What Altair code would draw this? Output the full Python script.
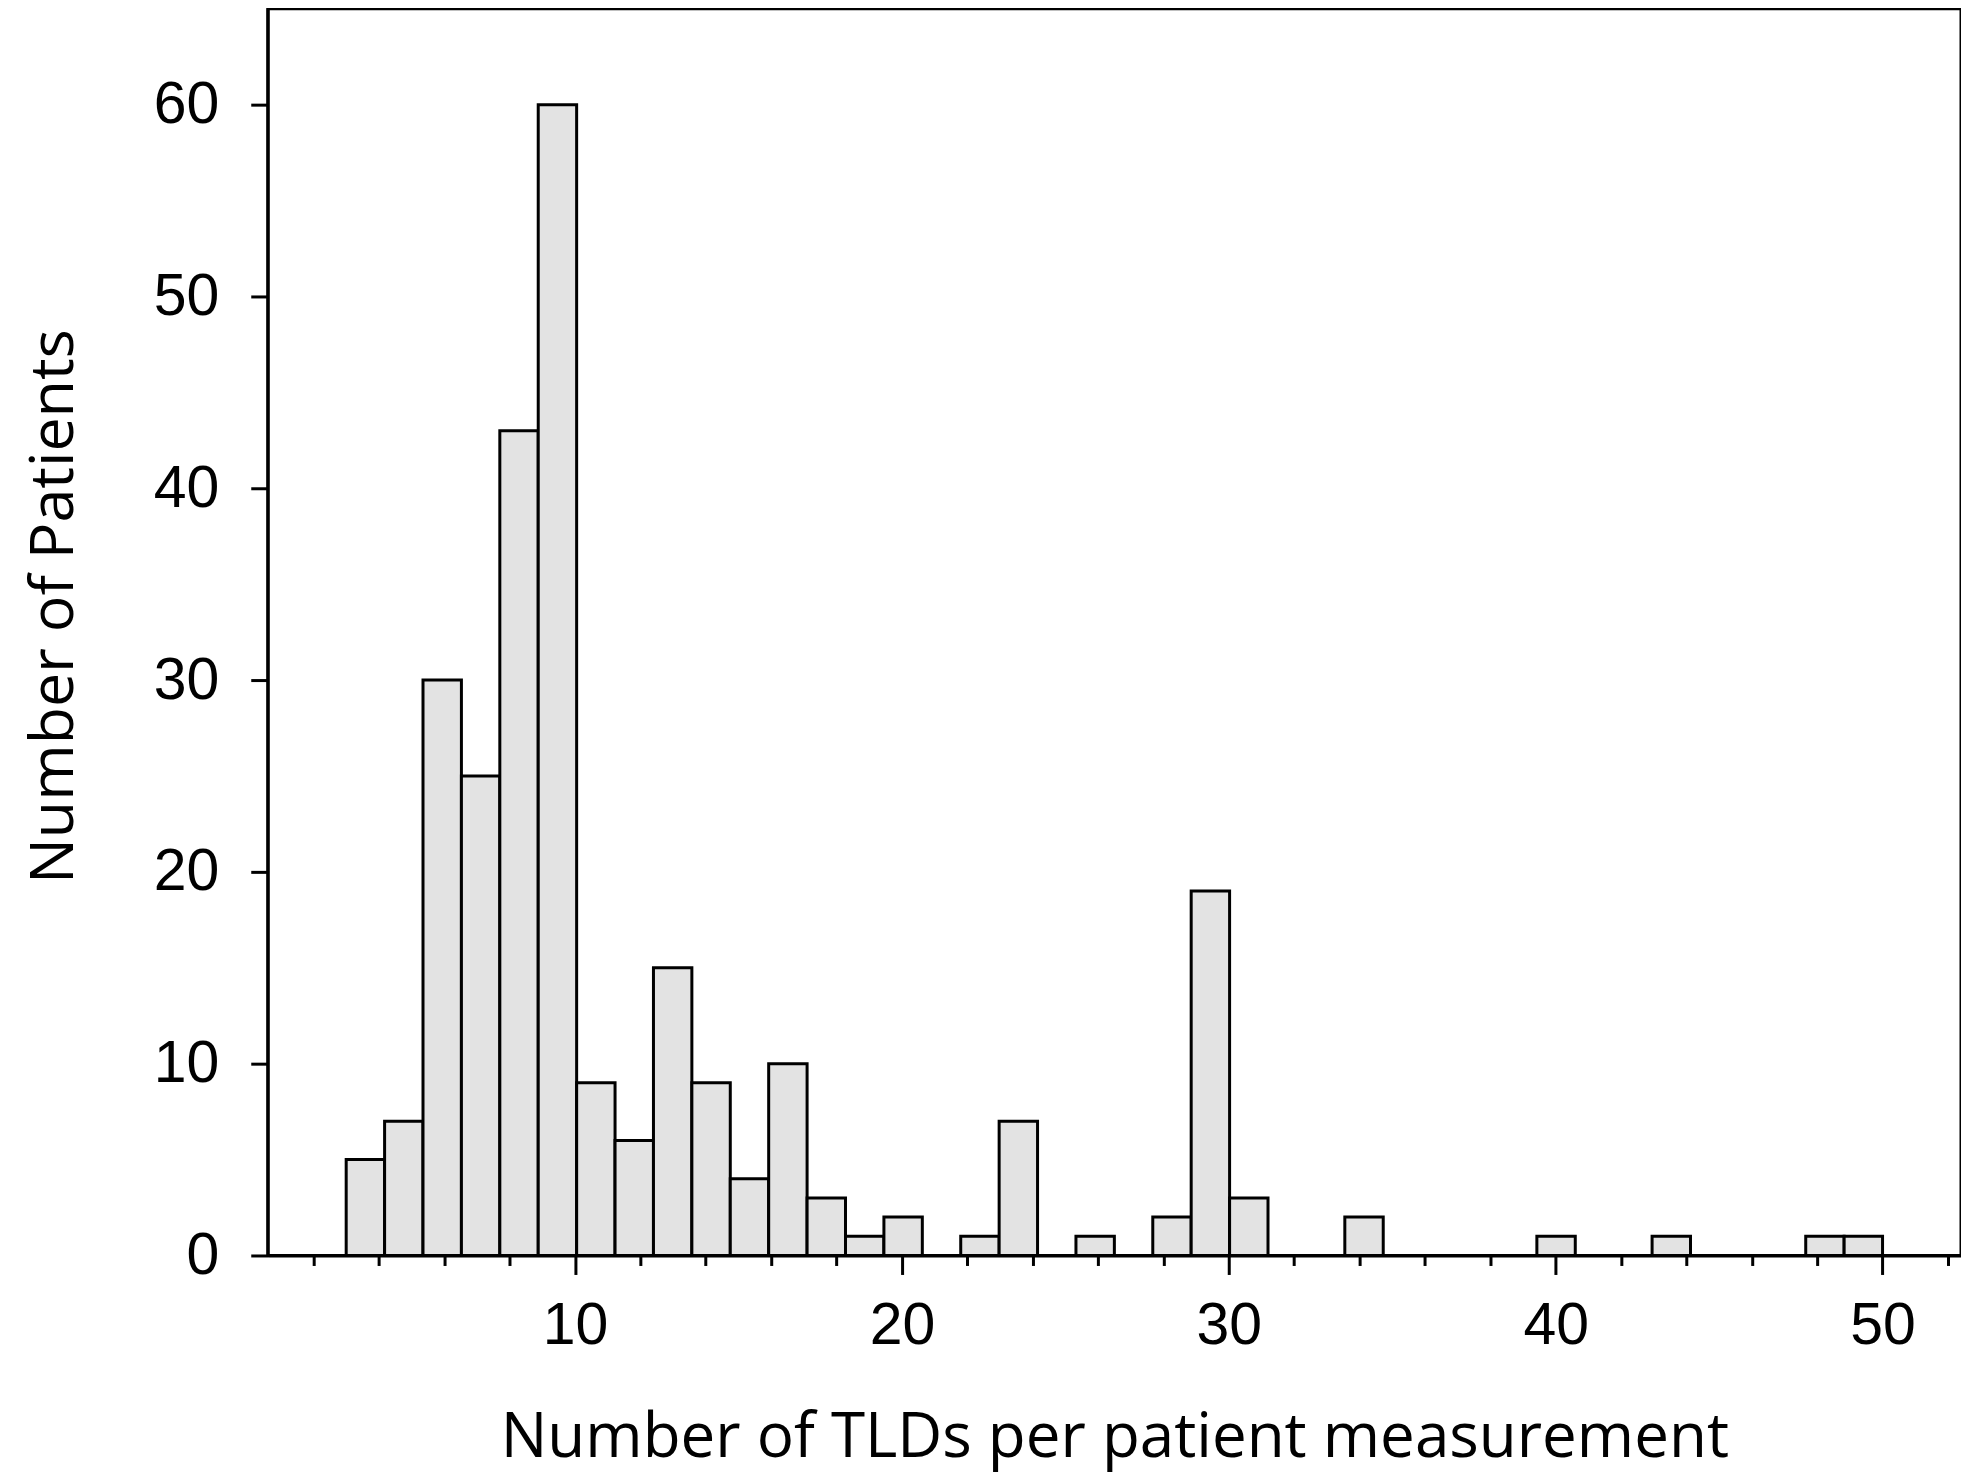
import altair as alt
import pandas as pd

# Histogram bins (number of TLDs per patient measurement) and patient counts
bin_start = [3.0, 4.175, 5.35, 6.525, 7.7, 8.875, 10.05, 11.225, 12.4, 13.575,
             14.75, 15.925, 17.1, 18.275, 19.45, 21.8, 22.975, 25.325, 27.675,
             28.85, 30.025, 33.55, 39.425, 42.95, 47.65, 48.825]
bin_end = [4.175, 5.35, 6.525, 7.7, 8.875, 10.05, 11.225, 12.4, 13.575, 14.75,
           15.925, 17.1, 18.275, 19.45, 20.625, 22.975, 24.15, 26.5, 28.85,
           30.025, 31.2, 34.725, 40.6, 44.125, 48.825, 50.0]
counts = [5, 7, 30, 25, 43, 60, 9, 6, 15, 9,
          4, 10, 3, 1, 2, 1, 7, 1, 2,
          19, 3, 2, 1, 1, 1, 1]

x_ticks = [2, 4, 6, 8, 10, 12, 14, 16, 18, 20, 22, 24, 26, 28, 30, 32, 34, 36,
           38, 40, 42, 44, 46, 48, 50, 52]
y_ticks = [0, 10, 20, 30, 40, 50, 60]

df = pd.DataFrame({"lo": bin_start, "hi": bin_end, "n": counts})

bars = alt.Chart(df).mark_bar(
    fill="#e3e3e3", stroke="black", strokeWidth=3, binSpacing=0
).encode(
    x=alt.X(
        "lo:Q",
        scale=alt.Scale(domain=[0.6, 52.4], nice=False, zero=False),
        axis=alt.Axis(
            title="Number of TLDs per patient measurement",
            values=x_ticks,
            labelExpr="datum.value % 10 === 0 ? datum.label : ''",
            tickSize={"condition": {"test": "datum.value % 10 === 0", "value": 19}, "value": 10},
            tickWidth=3,
            tickColor="black",
            domainWidth=3,
            domainColor="black",
            labelFont="Liberation Sans",
            labelFontSize=59,
            labelColor="black",
            labelPadding=22,
            labelFlush=False,
            grid=False,
            titleFont="Open Sans",
            titleFontSize=62,
            titleFontWeight="normal",
            titleColor="black",
            titleBaseline="alphabetic",
            titleY=201,
        ),
    ),
    x2="hi:Q",
    y=alt.Y(
        "n:Q",
        scale=alt.Scale(domain=[0, 65], nice=False),
        axis=alt.Axis(
            title="Number of Patients",
            values=y_ticks,
            tickSize=17,
            tickWidth=3,
            tickColor="black",
            domainWidth=3,
            domainColor="black",
            labelFont="Liberation Sans",
            labelFontSize=59,
            labelColor="black",
            labelPadding=32,
            grid=False,
            titleFont="Open Sans",
            titleFontSize=61,
            titleFontWeight="normal",
            titleColor="black",
            titleAngle=-90,
            titleBaseline="alphabetic",
            titleX=-195,
            titleY=598,
        ),
    ),
    y2=alt.datum(0),
)

chart = bars.properties(
    width=1695,
    height=1248,
    padding={"left": 260, "top": 0, "right": 0, "bottom": 220},
    autosize=alt.AutoSizeParams(type="none"),
    background="white",
).configure_view(
    stroke="black", strokeWidth=3
)

chart.save("out.html", embed_options={"renderer": "svg", "actions": False})
